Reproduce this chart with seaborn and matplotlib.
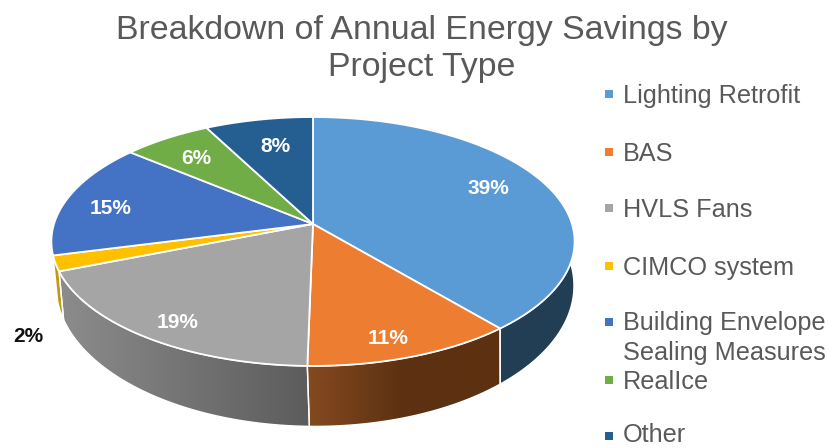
import numpy as np
import matplotlib
matplotlib.use("Agg")
import matplotlib.pyplot as plt
from matplotlib.colors import LinearSegmentedColormap
from matplotlib.patches import Polygon
import seaborn as sns

# Data (slice angles say a bit more than the rounded labels)
categories = ["Lighting Retrofit", "BAS", "HVLS Fans", "CIMCO system",
              "Building Envelope\nSealing Measures", "RealIce", "Other"]
shares = [38.85, 11.45, 18.7, 2.0, 15.05, 6.3, 7.65]

top_colors = ["#5B9BD5", "#ED7D31", "#A5A5A5", "#FFC000", "#4472C4", "#70AD47", "#255E91"]
# shades of the visible rim of the first four slices, left to right
rim_colors = [("#223E54", "#223E54"), ("#854A20", "#5C3111", "#5C3111"),
              ("#8C8C8C", "#5C5C5C"), ("#C49A12", "#C49A12")]

# Text placement, in picture pixels
label_xy = [(488, 188), (388, 338), (178, 322), (28, 337), (111, 208), (196, 159), (275, 146)]
label_colors = ["white", "white", "white", "#111111", "white", "white", "white"]
legend_y = [94, 152, 208, 266, 322, 380, 436]

sns.set_theme(style="white")
plt.rcParams["font.family"] = ["Liberation Sans", "DejaVu Sans"]
palette = sns.color_palette(top_colors)

fig = plt.figure(figsize=(8.3, 4.48), dpi=100)
ax = fig.add_axes([0, 0, 1, 1])


# Tilted disc: unit circle pushed through a perspective, apex at (313, 224)
def top_face(t, r=1.0):
    x = r * np.sin(t)
    y = r * np.cos(t)
    w = 1 + 0.1405 * y
    return 313 + 259 * x / w, 224 - 122 * y / w


def bottom_face(t):
    x, y = top_face(t)
    return 315 + 0.99 * (x - 313), 224 + 42 + 1.13 * (y - 224)


edges = np.radians(np.cumsum([0] + shares) * 3.6)

# rims first, the faces go on top of them
for i, shades in enumerate(rim_colors):
    t = np.linspace(edges[i], edges[i + 1], 120)
    tx, ty = top_face(t)
    bx, by = bottom_face(t)
    pts = np.column_stack([np.r_[tx, bx[::-1]], np.r_[ty, by[::-1]]])
    shape = Polygon(pts, closed=True, fc="none", ec="white", lw=1.0, zorder=2)
    ax.add_patch(shape)
    cmap = LinearSegmentedColormap.from_list(f"rim{i}", list(shades))
    img = ax.imshow(np.linspace(0, 1, 256)[None, :], cmap=cmap, aspect="auto", zorder=1,
                    extent=(pts[:, 0].min(), pts[:, 0].max(), pts[:, 1].max(), pts[:, 1].min()))
    img.set_clip_path(shape)

for i, color in enumerate(palette):
    t = np.linspace(edges[i], edges[i + 1], 200)
    tx, ty = top_face(t)
    ax.fill(np.r_[313, tx], np.r_[224, ty], fc=color, ec="white", lw=1.3, zorder=3)

for share, (x, y), color in zip(shares, label_xy, label_colors):
    ax.text(x, y, f"{share:.0f}%", color=color, fontsize=15, fontweight="bold",
            ha="center", va="center", zorder=4)

for name, y, color in zip(categories, legend_y, palette):
    ax.plot(609, y, marker="s", ms=6, color=color, mew=0, ls="none", zorder=4)
    # last entry sits right on the bottom edge, keep it inside
    text_y = min(y + 2 + 14 * name.count("\n"), 434.5)
    ax.text(623, text_y, name, color="#595959", fontsize=18.2,
            ha="left", va="center", linespacing=1.3, zorder=4)

ax.text(421.5, 49, "Breakdown of Annual Energy Savings by\nProject Type", color="#595959",
        fontsize=24.4, ha="center", va="center", linespacing=1.25, zorder=4)

ax.set_xlim(0, 830)
ax.set_ylim(448, 0)
ax.axis("off")

fig.savefig("out.png", dpi=100)
